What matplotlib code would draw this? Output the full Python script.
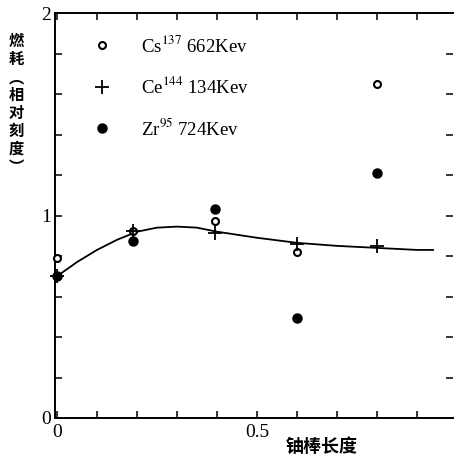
import matplotlib
matplotlib.use("Agg")
import matplotlib.pyplot as plt

plt.rcParams['font.family'] = ['Liberation Serif', 'DejaVu Serif']
plt.rcParams['mathtext.fontset'] = 'stix'

# points (x = relative rod length, y = burnup)
x_pts = [0.0, 0.19, 0.395, 0.6, 0.8]
cs137 = [0.79, 0.925, 0.975, 0.82, 1.65]
ce144 = [0.70, 0.925, 0.915, 0.86, 0.85]
zr95 = [0.70, 0.875, 1.03, 0.495, 1.21]

# hand-drawn fit curve
curve_x = [0.0, 0.05, 0.1, 0.15, 0.2, 0.25, 0.3, 0.35, 0.4, 0.5, 0.6, 0.7, 0.8, 0.9, 0.94]
curve_y = [0.70, 0.77, 0.83, 0.88, 0.92, 0.94, 0.945, 0.94, 0.92, 0.89, 0.865, 0.85, 0.84, 0.83, 0.83]

labels = [r"Cs$^{137}$ 662Kev", r"Ce$^{144}$ 134Kev", r"Zr$^{95}$ 724Kev"]

fig = plt.figure(figsize=(4.54, 4.59), dpi=100)
ax = fig.add_axes([55/454, 41/459, 398/454, 405/459])

ax.plot(curve_x, curve_y, color='black', lw=1.3)
ax.plot(x_pts, cs137, 'o', mfc='white', mec='black', mew=1.5, ms=5, ls='none',
        label=labels[0], clip_on=False, zorder=3)
ax.plot(x_pts, ce144, '+', color='black', mew=1.3, ms=10, ls='none',
        label=labels[1], clip_on=False, zorder=4)
ax.plot(x_pts, zr95, 'o', color='black', ms=6.5, ls='none',
        label=labels[2], clip_on=False, zorder=3)

ax.set_xlim(-0.005, 0.99)
ax.set_ylim(0, 2)
ax.set_xticks([i/10 for i in range(10)])
ax.set_xticklabels(['0', '', '', '', '', '0.5', '', '', '', ''])
ax.set_yticks([i/5 for i in range(11)])
ax.set_yticklabels(['0', '', '', '', '', '1', '', '', '', '', '2'])
ax.tick_params(direction='in', top=True, right=True, length=5, width=1.1,
               labelsize=14, pad=3)
ax.tick_params(axis='x', pad=4)
ax.spines['right'].set_visible(False)
for s in ['left', 'bottom', 'top']:
    ax.spines[s].set_linewidth(1.4)

leg = ax.legend(loc='upper left', bbox_to_anchor=(0.065, 0.965), frameon=False,
                fontsize=13.5, labelspacing=1.1, handletextpad=1.3,
                handlelength=1.5, borderaxespad=0)

cjk = ['Noto Sans CJK SC', 'DejaVu Sans']
fig.text(16/454, 1 - 104/459, "燃\n耗\n︵\n相\n对\n刻\n度\n︶", family=cjk,
         fontweight='bold', fontsize=11, ha='center', va='center', linespacing=1.15)
fig.text(322/454, 1 - 446/459, "铀棒长度", family=cjk, fontweight='bold',
         fontsize=13, ha='center', va='center')

fig.savefig("out.png", dpi=100)
